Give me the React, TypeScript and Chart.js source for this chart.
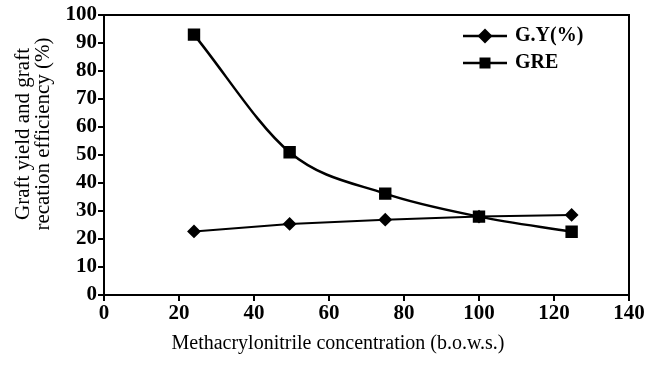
import React, { useEffect, useRef } from "react";
import { Chart, registerables } from "chart.js";

Chart.register(...registerables);

const xValues = [24, 49.5, 75, 100, 124.7];
const gyValues = [22.7, 25.4, 26.9, 28, 28.6];
const greValues = [93, 51, 36.2, 28, 22.6];
const seriesLabels = ["G.Y(%)", "GRE"];
const yTitle = ["Graft yield and graft", "recation efficiency (%)"];
const xTitle = "Methacrylonitrile concentration (b.o.w.s.)";

const SERIF = "'Liberation Serif', 'Times New Roman', serif";

const framePlugin = {
  id: "frame",
  afterDraw(chart: any) {
    const { ctx, chartArea } = chart;
    ctx.save();
    ctx.strokeStyle = "#000";
    ctx.lineWidth = 2;
    ctx.beginPath();
    ctx.moveTo(chartArea.left, chartArea.top);
    ctx.lineTo(chartArea.right, chartArea.top);
    ctx.lineTo(chartArea.right, chartArea.bottom);
    ctx.stroke();
    ctx.restore();
  },
};

const titlesPlugin = {
  id: "axisTitles",
  afterDraw(chart: any) {
    const { ctx } = chart;
    ctx.save();
    ctx.fillStyle = "#000";
    ctx.textAlign = "center";
    ctx.textBaseline = "middle";
    ctx.font = `20px ${SERIF}`;
    ctx.fillText(xTitle, 338, 344);
    ctx.font = `21px ${SERIF}`;
    const xs = [23, 43];
    yTitle.forEach((t, i) => {
      ctx.save();
      ctx.translate(xs[i], 134);
      ctx.rotate(-Math.PI / 2);
      ctx.fillText(t, 0, 0);
      ctx.restore();
    });
    ctx.restore();
  },
};

const legendPlugin = {
  id: "customLegend",
  afterDraw(chart: any) {
    const { ctx, chartArea } = chart;
    ctx.save();
    const x0 = chartArea.left + 359;
    const ys = [chartArea.top + 21, chartArea.top + 48];
    chart.data.datasets.forEach((ds: any, i: number) => {
      const y = ys[i];
      ctx.strokeStyle = "#000";
      ctx.lineWidth = 2.5;
      ctx.beginPath();
      ctx.moveTo(x0, y);
      ctx.lineTo(x0 + 44, y);
      ctx.stroke();
      ctx.fillStyle = "#000";
      const cx = x0 + 22;
      ctx.beginPath();
      if (ds.pointStyle === "rectRot") {
        const r = 7.5;
        ctx.moveTo(cx - r, y);
        ctx.lineTo(cx, y - r);
        ctx.lineTo(cx + r, y);
        ctx.lineTo(cx, y + r);
        ctx.closePath();
      } else {
        ctx.rect(cx - 5.5, y - 5.5, 11, 11);
      }
      ctx.fill();
      ctx.font = `bold 20px ${SERIF}`;
      ctx.textBaseline = "middle";
      ctx.textAlign = "left";
      ctx.fillText(ds.label, x0 + 52, y);
    });
    ctx.restore();
  },
};

export default function App() {
  const ref = useRef<HTMLCanvasElement>(null);
  useEffect(() => {
    const chart = new Chart(ref.current!, {
      type: "scatter",
      data: {
        datasets: [
          {
            label: seriesLabels[0],
            data: xValues.map((x, i) => ({ x, y: gyValues[i] })),
            showLine: true,
            borderColor: "#000",
            backgroundColor: "#000",
            borderWidth: 2,
            pointStyle: "rectRot",
            pointRadius: 5.5,
            tension: 0,
          },
          {
            label: seriesLabels[1],
            data: xValues.map((x, i) => ({ x, y: greValues[i] })),
            showLine: true,
            borderColor: "#000",
            backgroundColor: "#000",
            borderWidth: 2.5,
            pointStyle: "rect",
            pointRadius: 7,
            tension: 0.4,
            cubicInterpolationMode: "monotone",
          },
        ],
      },
      options: {
        animation: false,
        responsive: true,
        maintainAspectRatio: false,
        layout: { padding: { left: 0, top: 15, right: 24, bottom: 0 } },
        plugins: { legend: { display: false }, tooltip: { enabled: false } },
        scales: {
          x: {
            type: "linear",
            min: 0,
            max: 140,
            afterFit: (s: any) => {
              s.height = 73;
            },
            ticks: {
              stepSize: 20,
              autoSkip: false,
              color: "#000",
              font: { family: SERIF, size: 21, weight: "bold" },
              padding: 0,
              maxRotation: 0,
            },
            grid: {
              drawOnChartArea: false,
              drawTicks: true,
              tickLength: 6,
              color: "#000",
              lineWidth: 2,
            },
            border: { display: true, color: "#000", width: 2 },
            title: { display: false },
          },
          y: {
            min: 0,
            max: 100,
            afterFit: (s: any) => {
              s.width = 104;
            },
            ticks: {
              stepSize: 10,
              autoSkip: false,
              color: "#000",
              font: { family: SERIF, size: 21, weight: "bold" },
              padding: 1,
            },
            grid: {
              drawOnChartArea: false,
              drawTicks: true,
              tickLength: 6,
              color: "#000",
              lineWidth: 2,
            },
            border: { display: true, color: "#000", width: 2 },
            title: { display: false },
          },
        },
      },
      plugins: [framePlugin, legendPlugin, titlesPlugin],
    } as any);
    return () => chart.destroy();
  }, []);
  return (
    <div style={{ position: "fixed", left: 0, top: 0, width: 653, height: 368 }}>
      <canvas ref={ref} />
    </div>
  );
}
